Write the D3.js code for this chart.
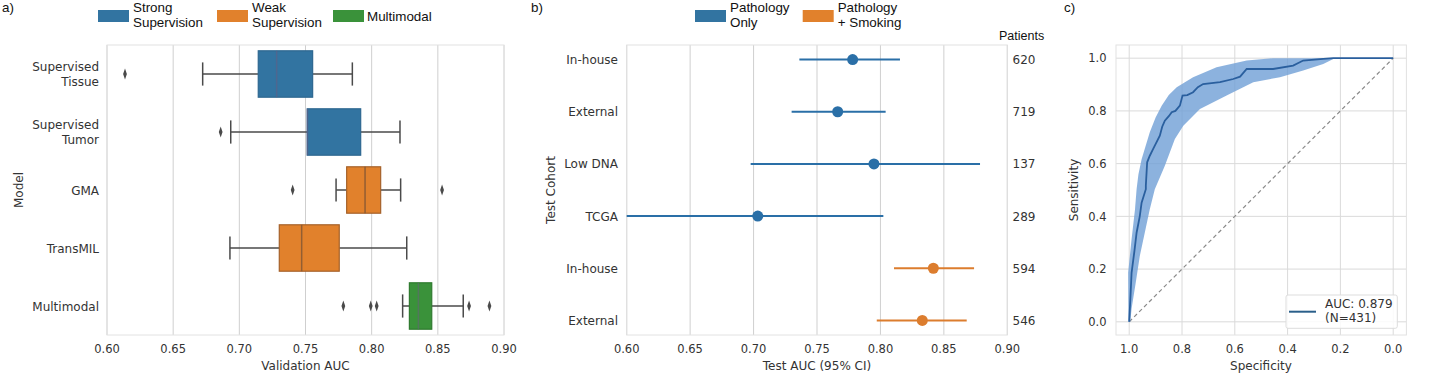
<!DOCTYPE html>
<html><head><meta charset="utf-8">
<script src="https://cdn.jsdelivr.net/npm/d3@7"></script>
<style>body{margin:0;background:#fff}svg{display:block}</style>
</head><body><svg id="c" width="1430" height="387"></svg>
<script>
// ---------- Panel a data ----------
const modelNames = ["Supervised\nTissue","Supervised\nTumor","GMA","TransMIL","Multimodal"];
const modelGroup = ["Strong","Strong","Weak","Weak","Multi"];
const whiskLow  = [0.6723,0.6935,0.7731,0.6929,0.8234];
const q1        = [0.7143,0.7513,0.7811,0.7302,0.8285];
const medians   = [0.7282,0.7515,0.7950,0.7471,0.8353];
const q3        = [0.7554,0.7917,0.8068,0.7755,0.8454];
const whiskHigh = [0.7854,0.8214,0.8219,0.8265,0.8692];
const outliers  = [[0.6136],[0.6859],[0.7403,0.8532],[],[0.7786,0.7993,0.8038,0.8736,0.889]];
const groupLabels = ["Strong\nSupervision","Weak\nSupervision","Multimodal"];
const aTicks = [0.60,0.65,0.70,0.75,0.80,0.85,0.90];

// ---------- Panel b data ----------
const cohorts   = ["In-house","External","Low DNA","TCGA","In-house","External"];
const cohortGrp = [0,0,0,0,1,1];
const aucPoint  = [0.7781,0.7663,0.7949,0.7033,0.8417,0.8330];
const aucLow    = [0.7361,0.7300,0.6977,0.6000,0.8107,0.7971];
const aucHigh   = [0.8154,0.8041,0.8785,0.8023,0.8738,0.8680];
const patients  = [620,719,137,289,594,546];
const bLegend   = ["Pathology\nOnly","Pathology\n+ Smoking"];
const bTicks    = [0.60,0.65,0.70,0.75,0.80,0.85,0.90];

// ---------- Panel c data ----------
const rocSpec = [1.0,0.995,0.991,0.98,0.972,0.96,0.953,0.937,0.937,0.932,0.922,0.912,0.903,0.884,0.875,0.865,0.85,0.839,0.825,0.808,0.798,0.78,0.758,0.74,0.72,0.656,0.606,0.58,0.555,0.455,0.379,0.341,0.265,0.227,0.0];
const rocSens = [0.0,0.10,0.186,0.27,0.338,0.40,0.452,0.503,0.516,0.605,0.63,0.65,0.668,0.706,0.74,0.763,0.78,0.795,0.80,0.82,0.858,0.86,0.871,0.89,0.902,0.909,0.921,0.93,0.959,0.959,0.972,0.991,0.997,1.0,1.0];
const upSpec = [1.003,1.004,0.991,0.978,0.972,0.965,0.953,0.922,0.900,0.877,0.85,0.820,0.758,0.669,0.555,0.455,0.0];
const upSens = [0.0,0.186,0.313,0.427,0.503,0.56,0.617,0.719,0.775,0.820,0.86,0.890,0.928,0.966,0.991,1.0,1.0];
const loSpec = [0.996,0.991,0.975,0.960,0.922,0.903,0.865,0.827,0.795,0.732,0.631,0.530,0.429,0.341,0.265,0.227,0.2,0.0];
const loSens = [0.0,0.05,0.15,0.249,0.427,0.503,0.592,0.693,0.744,0.807,0.858,0.909,0.928,0.953,0.978,0.997,1.0,1.0];
const cTicks = [0.0,0.2,0.4,0.6,0.8,1.0];
const rocLegend = ["AUC: 0.879","(N=431)"];

// ---------- styling ----------
const svg = d3.select("#c");
const TXT = "#333333", SANS = "'DejaVu Sans', sans-serif", ARIAL = "'Liberation Sans', Arial, sans-serif";
const groupColor = {Strong:"#3274a1", Weak:"#e1812c", Multi:"#3a923a"};
const groupEdge  = {Strong:"#2d6790", Weak:"#a5612a", Multi:"#2f7a2f"};
const bColors = ["#2a6fa7","#dc7d2e"];
const GRID = "#cfcfcf", FRAME = "#e2e2e2";
const TOP = 45, BOT = 335;

function multiline(sel, str, x, y, lh){
  str.split("\n").forEach((s,i)=>sel.append("tspan").attr("x",x).attr("y",y+i*lh).text(s));
}

// ===== Panel a =====
const xa = d3.scaleLinear().domain([0.6,0.9]).range([107,504]);
const ya = d3.scaleBand().domain(d3.range(modelNames.length)).range([TOP,BOT]).padding(0);
const ga = svg.append("g");
ga.selectAll(".gx").data(aTicks).join("line").attr("x1",d=>xa(d)).attr("x2",d=>xa(d))
  .attr("y1",TOP).attr("y2",BOT).attr("stroke",GRID).attr("stroke-width",1);
ga.append("rect").attr("x",107).attr("y",TOP).attr("width",397).attr("height",BOT-TOP)
  .attr("fill","none").attr("stroke",FRAME);
const bh = ya.bandwidth()*0.8;
modelNames.forEach((m,i)=>{
  const cy = ya(i)+ya.bandwidth()/2, g = modelGroup[i];
  const wc = "#4a4a4a";
  ga.append("line").attr("x1",xa(whiskLow[i])).attr("x2",xa(q1[i])).attr("y1",cy).attr("y2",cy).attr("stroke",wc).attr("stroke-width",1.5);
  ga.append("line").attr("x1",xa(q3[i])).attr("x2",xa(whiskHigh[i])).attr("y1",cy).attr("y2",cy).attr("stroke",wc).attr("stroke-width",1.5);
  [whiskLow[i],whiskHigh[i]].forEach(v=>ga.append("line").attr("x1",xa(v)).attr("x2",xa(v))
     .attr("y1",cy-bh/4).attr("y2",cy+bh/4).attr("stroke",wc).attr("stroke-width",1.5));
  ga.append("rect").attr("x",xa(q1[i])).attr("y",cy-bh/2).attr("width",xa(q3[i])-xa(q1[i])).attr("height",bh)
    .attr("fill",groupColor[g]).attr("stroke",groupEdge[g]).attr("stroke-width",1.2);
  ga.append("line").attr("x1",xa(medians[i])).attr("x2",xa(medians[i])).attr("y1",cy-bh/2).attr("y2",cy+bh/2)
    .attr("stroke",g==="Weak"?"#8a5a33":"#6a5a80").attr("stroke-opacity",g==="Weak"?0.9:0.5).attr("stroke-width",1.5);
  outliers[i].forEach(v=>{
    ga.append("path").attr("d",d3.symbol(d3.symbolDiamond,34)())
      .attr("transform",`translate(${xa(v)},${cy}) scale(0.6,1)`).attr("fill","#4a4a4a");
  });
  const t = ga.append("text").attr("text-anchor","end").attr("font-family",SANS).attr("font-size",12).attr("fill",TXT);
  const lines = m.split("\n");
  multiline(t, m, 99, cy+4.5-(lines.length-1)*7.5, 15);
});
ga.selectAll(".ta").data(aTicks).join("text").attr("x",d=>xa(d)).attr("y",353).attr("text-anchor","middle")
  .attr("font-family",SANS).attr("font-size",11.5).attr("fill",TXT).text(d=>d.toFixed(2));
ga.append("text").attr("x",(107+504)/2).attr("y",370).attr("text-anchor","middle").attr("font-family",SANS)
  .attr("font-size",12).attr("fill",TXT).text("Validation AUC");
ga.append("text").attr("transform","translate(23,190) rotate(-90)").attr("text-anchor","middle").attr("font-family",SANS)
  .attr("font-size",12).attr("fill",TXT).text("Model");
// legend a
const legAX = [98,217,333], legKeys=["Strong","Weak","Multi"];
groupLabels.forEach((l,i)=>{
  ga.append("rect").attr("x",legAX[i]).attr("y",10).attr("width",31).attr("height",12).attr("fill",groupColor[legKeys[i]]);
  const t = ga.append("text").attr("font-family",ARIAL).attr("font-size",13.4).attr("fill","#111");
  if(l.includes("\n")) multiline(t,l,legAX[i]+35,11.5,15); else multiline(t,l,legAX[i]+34,20.5,15);
});
svg.append("text").attr("x",2).attr("y",12).attr("font-family",ARIAL).attr("font-size",13.4).attr("fill","#111").text("a)");

// ===== Panel b =====
const xb = d3.scaleLinear().domain([0.6,0.9]).range([626.7,1007.3]);
const yb = d3.scalePoint().domain(d3.range(cohorts.length)).range([TOP,BOT]).padding(0.28);
const gb = svg.append("g");
gb.selectAll(".gx").data(bTicks).join("line").attr("x1",d=>xb(d)).attr("x2",d=>xb(d))
  .attr("y1",TOP).attr("y2",BOT).attr("stroke",GRID);
gb.append("rect").attr("x",626.7).attr("y",TOP).attr("width",380.6).attr("height",BOT-TOP).attr("fill","none").attr("stroke",FRAME);
cohorts.forEach((c,i)=>{
  const cy = yb(i), col = bColors[cohortGrp[i]];
  gb.append("line").attr("x1",xb(aucLow[i])).attr("x2",xb(aucHigh[i])).attr("y1",cy).attr("y2",cy).attr("stroke",col).attr("stroke-width",2);
  gb.append("circle").attr("cx",xb(aucPoint[i])).attr("cy",cy).attr("r",5.5).attr("fill",col);
  gb.append("text").attr("x",618).attr("y",cy+4.5).attr("text-anchor","end").attr("font-family",SANS).attr("font-size",12).attr("fill",TXT).text(c);
  gb.append("text").attr("x",1012.5).attr("y",cy+4.5).attr("font-family",SANS).attr("font-size",12).attr("fill",TXT).text(patients[i]);
});
gb.append("text").attr("x",999).attr("y",40).attr("font-family",ARIAL).attr("font-size",12.5).attr("fill","#111").text("Patients");
gb.selectAll(".tb").data(bTicks).join("text").attr("x",d=>xb(d)).attr("y",353).attr("text-anchor","middle")
  .attr("font-family",SANS).attr("font-size",11.5).attr("fill",TXT).text(d=>d.toFixed(2));
gb.append("text").attr("x",(626.7+1007.3)/2).attr("y",370).attr("text-anchor","middle").attr("font-family",SANS)
  .attr("font-size",12).attr("fill",TXT).text("Test AUC (95% CI)");
gb.append("text").attr("transform","translate(555,190) rotate(-90)").attr("text-anchor","middle").attr("font-family",SANS)
  .attr("font-size",12).attr("fill",TXT).text("Test Cohort");
const legBX=[695,802.7];
bLegend.forEach((l,i)=>{
  gb.append("rect").attr("x",legBX[i]).attr("y",10).attr("width",31).attr("height",12).attr("fill",i? "#e1812c":"#3274a1");
  const t = gb.append("text").attr("font-family",ARIAL).attr("font-size",13.4).attr("fill","#111");
  multiline(t,l,legBX[i]+35,11.5,15);
});
svg.append("text").attr("x",531).attr("y",12).attr("font-family",ARIAL).attr("font-size",13.4).attr("fill","#111").text("b)");

// ===== Panel c =====
const xc = d3.scaleLinear().domain([1.05,-0.05]).range([1116,1406.4]);
const yc = d3.scaleLinear().domain([-0.05,1.05]).range([BOT,TOP]);
const gc = svg.append("g");
cTicks.forEach(t=>{
  gc.append("line").attr("x1",xc(t)).attr("x2",xc(t)).attr("y1",TOP).attr("y2",BOT).attr("stroke","#dadada");
  gc.append("line").attr("x1",1116).attr("x2",1406.4).attr("y1",yc(t)).attr("y2",yc(t)).attr("stroke","#dadada");
});
gc.append("rect").attr("x",1116).attr("y",TOP).attr("width",290.4).attr("height",BOT-TOP).attr("fill","none").attr("stroke",FRAME);
gc.append("line").attr("x1",xc(1)).attr("y1",yc(0)).attr("x2",xc(0)).attr("y2",yc(1))
  .attr("stroke","#8a8a8a").attr("stroke-width",1.2).attr("stroke-dasharray","4,3");
const band = upSpec.map((s,i)=>[s,upSens[i]]).concat(loSpec.map((s,i)=>[s,loSens[i]]).reverse());
gc.append("path").attr("d",d3.line().x(d=>xc(d[0])).y(d=>yc(d[1]))(band)+"Z").attr("fill","#6f9fd6").attr("fill-opacity",0.8);
const roc = rocSpec.map((s,i)=>[s,rocSens[i]]);
gc.append("path").attr("d",d3.line().x(d=>xc(d[0])).y(d=>yc(d[1]))(roc)).attr("fill","none").attr("stroke","#2a5f9e").attr("stroke-width",1.8);
cTicks.forEach(t=>{
  gc.append("text").attr("x",xc(t)).attr("y",353).attr("text-anchor","middle").attr("font-family",SANS).attr("font-size",11.5).attr("fill",TXT).text(t.toFixed(1));
  gc.append("text").attr("x",1106.5).attr("y",yc(t)+4.2).attr("text-anchor","end").attr("font-family",SANS).attr("font-size",11.5).attr("fill",TXT).text(t.toFixed(1));
});
gc.append("text").attr("x",1261).attr("y",370).attr("text-anchor","middle").attr("font-family",SANS).attr("font-size",12).attr("fill",TXT).text("Specificity");
gc.append("text").attr("transform","translate(1078,190) rotate(-90)").attr("text-anchor","middle").attr("font-family",SANS).attr("font-size",12).attr("fill",TXT).text("Sensitivity");
gc.append("rect").attr("x",1286).attr("y",295).attr("width",111.3).attr("height",33.3).attr("rx",2)
  .attr("fill","#fff").attr("fill-opacity",0.85).attr("stroke","#dddddd");
gc.append("line").attr("x1",1289).attr("x2",1316).attr("y1",311.7).attr("y2",311.7).attr("stroke","#2a5f8a").attr("stroke-width",2);
const lt = gc.append("text").attr("font-family",SANS).attr("font-size",12).attr("fill",TXT);
multiline(lt, rocLegend.join("\n"), 1325, 308, 13.5);
svg.append("text").attr("x",1064).attr("y",12).attr("font-family",ARIAL).attr("font-size",13.4).attr("fill","#111").text("c)");
</script></body></html>
